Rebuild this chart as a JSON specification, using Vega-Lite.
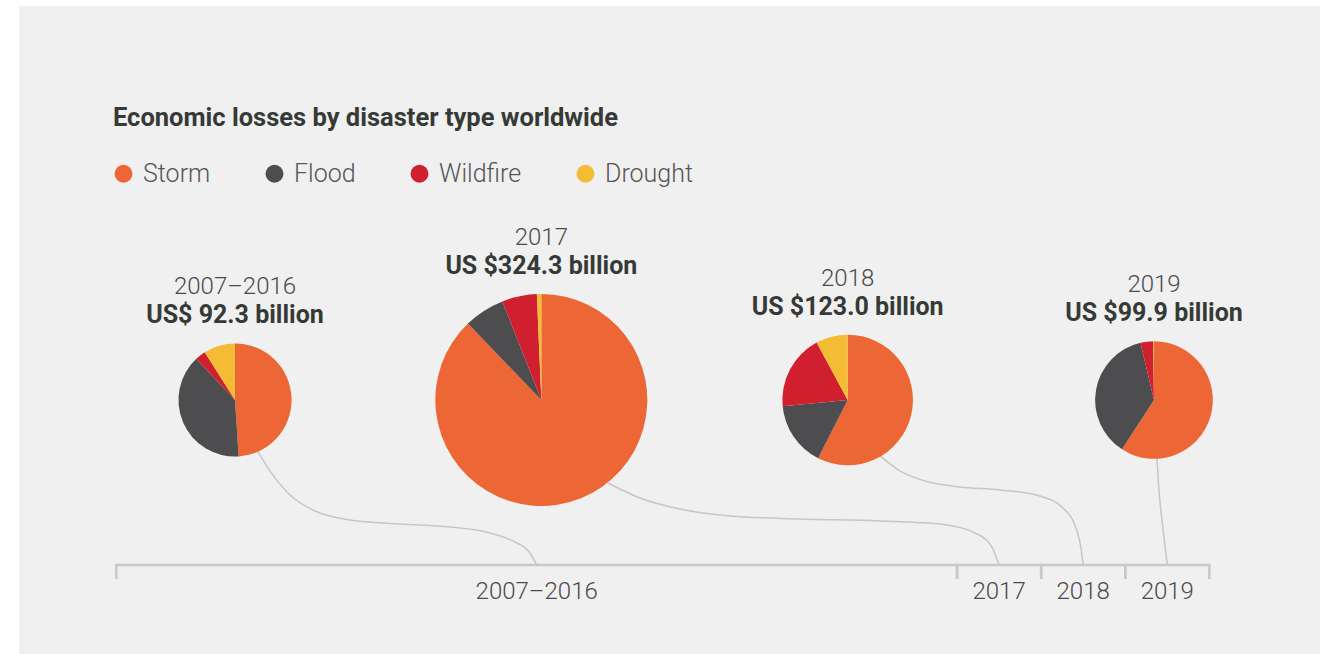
{
  "$schema": "https://vega.github.io/schema/vega-lite/v6.json",
  "width": 1301,
  "height": 648,
  "autosize": {"type": "none"},
  "padding": {"left": 19, "top": 6, "right": 11, "bottom": 0},
  "background": "#ffffff",
  "title": {
    "text": "Economic losses by disaster type worldwide",
    "anchor": "start",
    "frame": "group",
    "orient": "top",
    "offset": -145,
    "dx": 94,
    "baseline": "alphabetic",
    "font": "Roboto",
    "fontSize": 25.5,
    "fontWeight": "bold",
    "color": "#363a36"
  },
  "datasets": {
    "slices": [
      {"period": "2007–2016", "type": "Storm", "order": 1, "loss": 45.2},
      {"period": "2007–2016", "type": "Flood", "order": 2, "loss": 36.0},
      {"period": "2007–2016", "type": "Wildfire", "order": 3, "loss": 2.8},
      {"period": "2007–2016", "type": "Drought", "order": 4, "loss": 8.3},
      {"period": "2017", "type": "Storm", "order": 1, "loss": 284.8},
      {"period": "2017", "type": "Flood", "order": 2, "loss": 20.1},
      {"period": "2017", "type": "Wildfire", "order": 3, "loss": 17.2},
      {"period": "2017", "type": "Drought", "order": 4, "loss": 2.2},
      {"period": "2018", "type": "Storm", "order": 1, "loss": 70.7},
      {"period": "2018", "type": "Flood", "order": 2, "loss": 19.7},
      {"period": "2018", "type": "Wildfire", "order": 3, "loss": 22.9},
      {"period": "2018", "type": "Drought", "order": 4, "loss": 9.7},
      {"period": "2019", "type": "Storm", "order": 1, "loss": 59.1},
      {"period": "2019", "type": "Flood", "order": 2, "loss": 37.1},
      {"period": "2019", "type": "Wildfire", "order": 3, "loss": 3.5},
      {"period": "2019", "type": "Drought", "order": 4, "loss": 0.2}
    ],
    "periods": [
      {"period": "2007–2016", "total": 92.3, "amount": "US$ 92.3 billion"},
      {"period": "2017", "total": 324.3, "amount": "US $324.3 billion"},
      {"period": "2018", "total": 123.0, "amount": "US $123.0 billion"},
      {"period": "2019", "total": 99.9, "amount": "US $99.9 billion"}
    ],
    "timeline": [
      {"period": "2007–2016", "start": 2007, "end": 2017},
      {"period": "2017", "start": 2017, "end": 2018},
      {"period": "2018", "start": 2018, "end": 2019},
      {"period": "2019", "start": 2019, "end": 2020}
    ],
    "links": [
      {"period": "2007–2016", "seq": 1, "year": 2008.685, "level": 68.5},
      {"period": "2007–2016", "seq": 2, "year": 2008.852, "level": 55.2},
      {"period": "2007–2016", "seq": 3, "year": 2009.066, "level": 42.4},
      {"period": "2007–2016", "seq": 4, "year": 2009.363, "level": 32.7},
      {"period": "2007–2016", "seq": 5, "year": 2009.78, "level": 27.3},
      {"period": "2007–2016", "seq": 6, "year": 2010.374, "level": 24.8},
      {"period": "2007–2016", "seq": 7, "year": 2010.969, "level": 23.0},
      {"period": "2007–2016", "seq": 8, "year": 2011.445, "level": 19.4},
      {"period": "2007–2016", "seq": 9, "year": 2011.742, "level": 13.9},
      {"period": "2007–2016", "seq": 10, "year": 2011.92, "level": 7.3},
      {"period": "2007–2016", "seq": 11, "year": 2012.0, "level": 0},
      {"period": "2017", "seq": 1, "year": 2012.848, "level": 49.7},
      {"period": "2017", "seq": 2, "year": 2013.229, "level": 40.6},
      {"period": "2017", "seq": 3, "year": 2013.704, "level": 33.9},
      {"period": "2017", "seq": 4, "year": 2014.299, "level": 29.7},
      {"period": "2017", "seq": 5, "year": 2015.132, "level": 27.9},
      {"period": "2017", "seq": 6, "year": 2016.083, "level": 26.7},
      {"period": "2017", "seq": 7, "year": 2016.797, "level": 24.8},
      {"period": "2017", "seq": 8, "year": 2017.213, "level": 19.4},
      {"period": "2017", "seq": 9, "year": 2017.415, "level": 10.9},
      {"period": "2017", "seq": 10, "year": 2017.5, "level": 0},
      {"period": "2018", "seq": 1, "year": 2016.083, "level": 66.1},
      {"period": "2018", "seq": 2, "year": 2016.321, "level": 57.0},
      {"period": "2018", "seq": 3, "year": 2016.618, "level": 50.9},
      {"period": "2018", "seq": 4, "year": 2017.034, "level": 47.3},
      {"period": "2018", "seq": 5, "year": 2017.51, "level": 45.5},
      {"period": "2018", "seq": 6, "year": 2017.986, "level": 41.8},
      {"period": "2018", "seq": 7, "year": 2018.26, "level": 34.5},
      {"period": "2018", "seq": 8, "year": 2018.414, "level": 22.4},
      {"period": "2018", "seq": 9, "year": 2018.474, "level": 10.3},
      {"period": "2018", "seq": 10, "year": 2018.5, "level": 0},
      {"period": "2019", "seq": 1, "year": 2019.378, "level": 64.2},
      {"period": "2019", "seq": 2, "year": 2019.401, "level": 45.5},
      {"period": "2019", "seq": 3, "year": 2019.437, "level": 27.3},
      {"period": "2019", "seq": 4, "year": 2019.472, "level": 12.1},
      {"period": "2019", "seq": 5, "year": 2019.5, "level": 0}
    ]
  },
  "layer": [
    {
      "layer": [
        {
          "data": {"name": "links"},
          "mark": {"type": "line", "interpolate": "monotone", "color": "#c6c6c6", "strokeWidth": 1.5},
          "encoding": {
            "x": {"field": "year", "type": "quantitative", "scale": {"domain": [2007, 2020], "range": [97.3, 1190.3], "zero": false, "nice": false}, "axis": null},
            "y": {"field": "level", "type": "quantitative", "scale": {"domain": [0, 100], "range": [559, 394], "zero": false, "nice": false}, "axis": null},
            "detail": {"field": "period", "type": "nominal"},
            "order": {"field": "seq", "type": "quantitative"}
          }
        },
        {
          "data": {"name": "timeline"},
          "mark": {"type": "rule", "color": "#c8c8c8", "strokeWidth": 2.5, "strokeCap": "square"},
          "encoding": {
            "x": {"field": "start", "type": "quantitative", "scale": {"domain": [2007, 2020], "range": [97.3, 1190.3], "zero": false, "nice": false}, "axis": null},
            "x2": {"field": "end"},
            "y": {"datum": 0, "type": "quantitative", "scale": {"domain": [0, 100], "range": [559, 394], "zero": false, "nice": false}, "axis": null}
          }
        },
        {
          "data": {"name": "timeline"},
          "mark": {"type": "rule", "color": "#c8c8c8", "strokeWidth": 2.5},
          "encoding": {
            "x": {"field": "start", "type": "quantitative", "scale": {"domain": [2007, 2020], "range": [97.3, 1190.3], "zero": false, "nice": false}, "axis": null},
            "y": {"datum": 0, "type": "quantitative", "scale": {"domain": [0, 100], "range": [559, 394], "zero": false, "nice": false}, "axis": null},
            "y2": {"datum": -8.5}
          }
        },
        {
          "data": {"name": "timeline"},
          "mark": {"type": "rule", "color": "#c8c8c8", "strokeWidth": 2.5},
          "encoding": {
            "x": {"field": "end", "type": "quantitative", "scale": {"domain": [2007, 2020], "range": [97.3, 1190.3], "zero": false, "nice": false}, "axis": null},
            "y": {"datum": 0, "type": "quantitative", "scale": {"domain": [0, 100], "range": [559, 394], "zero": false, "nice": false}, "axis": null},
            "y2": {"datum": -8.5}
          }
        },
        {
          "data": {"name": "timeline"},
          "transform": [{"calculate": "(datum.start + datum.end) / 2", "as": "mid"}],
          "mark": {"type": "text", "dy": 34, "baseline": "alphabetic", "align": "center", "font": "Roboto", "fontSize": 24, "fontWeight": 300, "color": "#4a4a4a"},
          "encoding": {
            "x": {"field": "mid", "type": "quantitative", "scale": {"domain": [2007, 2020], "range": [97.3, 1190.3], "zero": false, "nice": false}, "axis": null},
            "y": {"datum": 0, "type": "quantitative", "scale": {"domain": [0, 100], "range": [559, 394], "zero": false, "nice": false}, "axis": null},
            "text": {"field": "period", "type": "nominal"}
          }
        }
      ]
    },
    {
      "layer": [
        {
          "data": {"name": "slices"},
          "transform": [
            {"joinaggregate": [{"op": "sum", "field": "loss", "as": "total"}], "groupby": ["period"]},
            {"stack": "loss", "groupby": ["period"], "sort": [{"field": "order", "order": "ascending"}], "offset": "normalize", "as": ["a0", "a1"]}
          ],
          "mark": {"type": "arc"},
          "encoding": {
            "x": {"field": "period", "type": "nominal", "scale": {"type": "point", "domain": ["2007–2016", "2017", "2018", "2019"], "range": [216, 1135], "padding": 0}, "axis": null},
            "y": {"datum": 100, "type": "quantitative", "stack": null, "scale": {"domain": [0, 100], "range": [559, 394], "zero": false, "nice": false}, "axis": null},
            "theta": {"field": "a0", "type": "quantitative", "stack": null, "scale": {"domain": [0, 1], "range": [0, 6.283185307179586], "zero": false, "nice": false}},
            "theta2": {"field": "a1"},
            "radius": {"field": "total", "type": "quantitative", "scale": {"type": "sqrt", "domain": [0, 324.3], "range": [0, 106], "zero": true, "nice": false}},
            "color": {
              "field": "type",
              "type": "nominal",
              "scale": {"domain": ["Storm", "Flood", "Wildfire", "Drought"], "range": ["#ec6735", "#4d4d4f", "#d01f2f", "#f4bb35"]},
              "legend": {
                "title": null,
                "orient": "none",
                "legendX": 92,
                "legendY": 155,
                "direction": "horizontal",
                "symbolType": "circle",
                "symbolSize": 324,
                "symbolStrokeWidth": 0,
                "symbolOpacity": 1,
                "labelFont": "Roboto",
                "labelFontSize": 25,
                "labelFontWeight": 300,
                "labelColor": "#555555",
                "labelOffset": 7,
                "labelLimit": 300,
                "columnPadding": 51,
                "padding": 0
              }
            }
          }
        },
        {
          "data": {"name": "periods"},
          "mark": {"type": "text", "dy": -49, "baseline": "alphabetic", "align": "center", "font": "Roboto", "fontSize": 24, "fontWeight": 300, "color": "#4a4a4a"},
          "encoding": {
            "x": {"field": "period", "type": "nominal", "scale": {"type": "point", "domain": ["2007–2016", "2017", "2018", "2019"], "range": [216, 1135], "padding": 0}, "axis": null},
            "y": {"datum": 100, "type": "quantitative", "scale": {"domain": [0, 100], "range": [559, 394], "zero": false, "nice": false}, "axis": null},
            "radius": {"field": "total", "type": "quantitative", "scale": {"type": "sqrt", "domain": [0, 324.3], "range": [0, 106], "zero": true, "nice": false}},
            "text": {"field": "period", "type": "nominal"}
          }
        },
        {
          "data": {"name": "periods"},
          "mark": {"type": "text", "dy": -20, "baseline": "alphabetic", "align": "center", "font": "Roboto", "fontSize": 25, "fontWeight": "bold", "color": "#363a36"},
          "encoding": {
            "x": {"field": "period", "type": "nominal", "scale": {"type": "point", "domain": ["2007–2016", "2017", "2018", "2019"], "range": [216, 1135], "padding": 0}, "axis": null},
            "y": {"datum": 100, "type": "quantitative", "scale": {"domain": [0, 100], "range": [559, 394], "zero": false, "nice": false}, "axis": null},
            "radius": {"field": "total", "type": "quantitative", "scale": {"type": "sqrt", "domain": [0, 324.3], "range": [0, 106], "zero": true, "nice": false}},
            "text": {"field": "amount", "type": "nominal"}
          }
        }
      ]
    }
  ],
  "resolve": {"scale": {"x": "independent"}},
  "config": {
    "view": {"fill": "#f0f0f0", "stroke": null}
  }
}
